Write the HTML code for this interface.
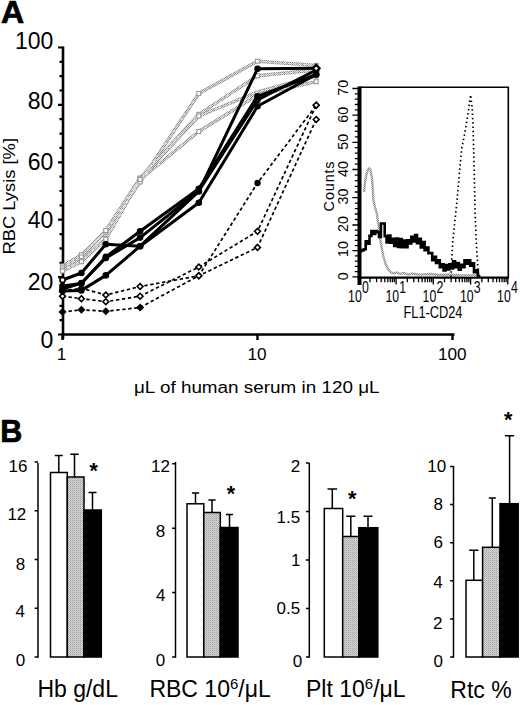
<!DOCTYPE html>
<html><head><meta charset="utf-8"><style>
html,body{margin:0;padding:0;background:#fff;}
svg{display:block;font-family:"Liberation Sans", sans-serif;}
</style></head><body>
<svg width="520" height="705" viewBox="0 0 520 705" font-family='"Liberation Sans", sans-serif'>
<rect width="520" height="705" fill="#fff"/>
<defs><pattern id="st" width="2" height="2" patternUnits="userSpaceOnUse"><rect width="2" height="2" fill="#d6d6d6"/><rect width="1" height="1" fill="#a2a2a2"/><rect x="1" y="1" width="1" height="1" fill="#bababa"/></pattern><pattern id="gl" width="2" height="2" patternUnits="userSpaceOnUse"><rect width="2" height="2" fill="#d6d6d6"/><rect width="1" height="1" fill="#808080"/><rect x="1" y="1" width="1" height="1" fill="#8c8c8c"/></pattern></defs>
<text x="0" y="23.2" font-size="31.5" font-weight="bold" stroke="#000" stroke-width="0.7" transform="translate(1.0 0) scale(1.02 1)">A</text>
<g stroke="#000" stroke-width="2.6" fill="none">
<line x1="63" y1="46.5" x2="63" y2="339"/>
<line x1="61.5" y1="334.5" x2="454.5" y2="334.5"/>
</g>
<path d="M58 334.5H63 M59.5 320.1H63 M59.5 305.8H63 M59.5 291.4H63 M58 277.1H63 M59.5 262.8H63 M59.5 248.4H63 M59.5 234.1H63 M58 219.7H63 M59.5 205.3H63 M59.5 191.0H63 M59.5 176.7H63 M58 162.3H63 M59.5 147.9H63 M59.5 133.6H63 M59.5 119.2H63 M58 104.9H63 M59.5 90.5H63 M59.5 76.2H63 M59.5 61.8H63 M58 47.5H63" stroke="#000" stroke-width="2.2"/>
<path d="M62.5 334.5V340M257.5 334.5V340M452.5 334.5V340" stroke="#000" stroke-width="2.4"/>
<text x="53.4" y="48.6" font-size="23" text-anchor="end">100</text>
<text x="53.4" y="109.2" font-size="23" text-anchor="end">80</text>
<text x="53.4" y="169.6" font-size="23" text-anchor="end">60</text>
<text x="53.4" y="228.2" font-size="23" text-anchor="end">40</text>
<text x="53.4" y="290.4" font-size="23" text-anchor="end">20</text>
<text x="53.4" y="348.2" font-size="23" text-anchor="end">0</text>
<text x="61.5" y="360.3" font-size="17.2" text-anchor="middle">1</text>
<text x="257.1" y="360.3" font-size="17.2" text-anchor="middle">10</text>
<text x="452.3" y="360.3" font-size="17.2" text-anchor="middle">100</text>
<text x="134" y="393" font-size="16.7" textLength="245.5" lengthAdjust="spacingAndGlyphs">μL of human serum in 120 μL</text>
<text transform="translate(14.6 254.5) rotate(-90)" font-size="16.7" textLength="116.5" lengthAdjust="spacingAndGlyphs">RBC Lysis [%]</text>
<path d="M62.5 266.0 L81.4 254.8 L105.8 232.0 L140.1 182.0 L198.8 93.5 L257.5 61.2 L316.2 65.4" fill="none" stroke="url(#gl)" stroke-width="3.4" stroke-linejoin="round"/>
<path d="M62.5 268.0 L81.4 257.0 L105.8 230.5 L140.1 178.0 L198.8 114.4 L257.5 75.8 L316.2 70.0" fill="none" stroke="url(#gl)" stroke-width="3.4" stroke-linejoin="round"/>
<path d="M62.5 270.0 L81.4 260.5 L105.8 238.5 L140.1 179.0 L198.8 116.0 L257.5 92.0 L316.2 76.0" fill="none" stroke="url(#gl)" stroke-width="3.4" stroke-linejoin="round"/>
<path d="M62.5 271.0 L81.4 261.7 L105.8 239.2 L140.1 179.5 L198.8 131.5 L257.5 95.0 L316.2 81.7" fill="none" stroke="url(#gl)" stroke-width="3.4" stroke-linejoin="round"/>
<path d="M62.5 266.0 L81.4 254.8 L105.8 232.0 L140.1 182.0 L198.8 93.5 L257.5 61.2 L316.2 65.4" fill="none" stroke="#ececec" stroke-width="1.0" stroke-dasharray="3.5 1.5"/>
<path d="M62.5 268.0 L81.4 257.0 L105.8 230.5 L140.1 178.0 L198.8 114.4 L257.5 75.8 L316.2 70.0" fill="none" stroke="#ececec" stroke-width="1.0" stroke-dasharray="3.5 1.5"/>
<path d="M62.5 270.0 L81.4 260.5 L105.8 238.5 L140.1 179.0 L198.8 116.0 L257.5 92.0 L316.2 76.0" fill="none" stroke="#ececec" stroke-width="1.0" stroke-dasharray="3.5 1.5"/>
<path d="M62.5 271.0 L81.4 261.7 L105.8 239.2 L140.1 179.5 L198.8 131.5 L257.5 95.0 L316.2 81.7" fill="none" stroke="#ececec" stroke-width="1.0" stroke-dasharray="3.5 1.5"/>
<rect x="60.5" y="264.0" width="4" height="4" fill="#fff" stroke="#9a9a9a" stroke-width="1.1"/>
<rect x="79.4" y="252.8" width="4" height="4" fill="#fff" stroke="#9a9a9a" stroke-width="1.1"/>
<rect x="103.8" y="230.0" width="4" height="4" fill="#fff" stroke="#9a9a9a" stroke-width="1.1"/>
<rect x="138.1" y="180.0" width="4" height="4" fill="#fff" stroke="#9a9a9a" stroke-width="1.1"/>
<rect x="196.8" y="91.5" width="4" height="4" fill="#fff" stroke="#9a9a9a" stroke-width="1.1"/>
<rect x="255.5" y="59.2" width="4" height="4" fill="#fff" stroke="#9a9a9a" stroke-width="1.1"/>
<rect x="314.2" y="63.4" width="4" height="4" fill="#fff" stroke="#9a9a9a" stroke-width="1.1"/>
<rect x="60.5" y="266.0" width="4" height="4" fill="#fff" stroke="#9a9a9a" stroke-width="1.1"/>
<rect x="79.4" y="255.0" width="4" height="4" fill="#fff" stroke="#9a9a9a" stroke-width="1.1"/>
<rect x="103.8" y="228.5" width="4" height="4" fill="#fff" stroke="#9a9a9a" stroke-width="1.1"/>
<rect x="138.1" y="176.0" width="4" height="4" fill="#fff" stroke="#9a9a9a" stroke-width="1.1"/>
<rect x="196.8" y="112.4" width="4" height="4" fill="#fff" stroke="#9a9a9a" stroke-width="1.1"/>
<rect x="255.5" y="73.8" width="4" height="4" fill="#fff" stroke="#9a9a9a" stroke-width="1.1"/>
<rect x="314.2" y="68.0" width="4" height="4" fill="#fff" stroke="#9a9a9a" stroke-width="1.1"/>
<rect x="60.5" y="268.0" width="4" height="4" fill="#fff" stroke="#9a9a9a" stroke-width="1.1"/>
<rect x="79.4" y="258.5" width="4" height="4" fill="#fff" stroke="#9a9a9a" stroke-width="1.1"/>
<rect x="103.8" y="236.5" width="4" height="4" fill="#fff" stroke="#9a9a9a" stroke-width="1.1"/>
<rect x="138.1" y="177.0" width="4" height="4" fill="#fff" stroke="#9a9a9a" stroke-width="1.1"/>
<rect x="196.8" y="114.0" width="4" height="4" fill="#fff" stroke="#9a9a9a" stroke-width="1.1"/>
<rect x="314.2" y="74.0" width="4" height="4" fill="#fff" stroke="#9a9a9a" stroke-width="1.1"/>
<rect x="60.5" y="269.0" width="4" height="4" fill="#fff" stroke="#9a9a9a" stroke-width="1.1"/>
<rect x="79.4" y="259.7" width="4" height="4" fill="#fff" stroke="#9a9a9a" stroke-width="1.1"/>
<rect x="103.8" y="237.2" width="4" height="4" fill="#fff" stroke="#9a9a9a" stroke-width="1.1"/>
<rect x="138.1" y="177.5" width="4" height="4" fill="#fff" stroke="#9a9a9a" stroke-width="1.1"/>
<rect x="196.8" y="129.5" width="4" height="4" fill="#fff" stroke="#9a9a9a" stroke-width="1.1"/>
<rect x="314.2" y="79.7" width="4" height="4" fill="#fff" stroke="#9a9a9a" stroke-width="1.1"/>
<path d="M62.5 312.0 L81.4 309.8 L105.8 311.3 L140.1 307.5 L198.8 275.8 L257.5 183.0 L316.2 105.2" fill="none" stroke="#000" stroke-width="1.7" stroke-dasharray="3.4 2.6"/>
<path d="M62.5 296.2 L81.4 298.7 L105.8 301.7 L140.1 296.2 L198.8 267.0 L257.5 231.3 L316.2 105.2" fill="none" stroke="#000" stroke-width="1.7" stroke-dasharray="3.4 2.6"/>
<path d="M62.5 291.0 L81.4 288.3 L105.8 295.0 L140.1 286.5 L198.8 275.8 L257.5 247.4 L316.2 119.5" fill="none" stroke="#000" stroke-width="1.7" stroke-dasharray="3.4 2.6"/>
<path d="M62.5 309.1L65.4 312.0L62.5 314.9L59.6 312.0Z" fill="#000" stroke="#000" stroke-width="1.6"/>
<path d="M81.4 306.9L84.3 309.8L81.4 312.7L78.5 309.8Z" fill="#000" stroke="#000" stroke-width="1.6"/>
<path d="M105.8 308.4L108.7 311.3L105.8 314.2L102.9 311.3Z" fill="#000" stroke="#000" stroke-width="1.6"/>
<path d="M140.1 304.6L143.0 307.5L140.1 310.4L137.2 307.5Z" fill="#000" stroke="#000" stroke-width="1.6"/>
<path d="M198.8 272.9L201.7 275.8L198.8 278.7L195.9 275.8Z" fill="#000" stroke="#000" stroke-width="1.6"/>
<circle cx="257.5" cy="183.0" r="3.2" fill="#000"/>
<path d="M316.2 102.3L319.1 105.2L316.2 108.1L313.3 105.2Z" fill="#fff" stroke="#000" stroke-width="1.6"/>
<path d="M62.5 293.3L65.4 296.2L62.5 299.1L59.6 296.2Z" fill="#fff" stroke="#000" stroke-width="1.6"/>
<path d="M81.4 295.8L84.3 298.7L81.4 301.6L78.5 298.7Z" fill="#fff" stroke="#000" stroke-width="1.6"/>
<path d="M105.8 298.8L108.7 301.7L105.8 304.6L102.9 301.7Z" fill="#fff" stroke="#000" stroke-width="1.6"/>
<path d="M140.1 293.3L143.0 296.2L140.1 299.1L137.2 296.2Z" fill="#fff" stroke="#000" stroke-width="1.6"/>
<path d="M198.8 264.1L201.7 267.0L198.8 269.9L195.9 267.0Z" fill="#fff" stroke="#000" stroke-width="1.6"/>
<path d="M257.5 228.4L260.4 231.3L257.5 234.2L254.6 231.3Z" fill="#fff" stroke="#000" stroke-width="1.6"/>
<path d="M316.2 102.3L319.1 105.2L316.2 108.1L313.3 105.2Z" fill="#fff" stroke="#000" stroke-width="1.6"/>
<path d="M62.5 288.1L65.4 291.0L62.5 293.9L59.6 291.0Z" fill="#fff" stroke="#000" stroke-width="1.6"/>
<path d="M81.4 285.4L84.3 288.3L81.4 291.2L78.5 288.3Z" fill="#fff" stroke="#000" stroke-width="1.6"/>
<path d="M105.8 292.1L108.7 295.0L105.8 297.9L102.9 295.0Z" fill="#fff" stroke="#000" stroke-width="1.6"/>
<path d="M140.1 283.6L143.0 286.5L140.1 289.4L137.2 286.5Z" fill="#fff" stroke="#000" stroke-width="1.6"/>
<path d="M198.8 272.9L201.7 275.8L198.8 278.7L195.9 275.8Z" fill="#fff" stroke="#000" stroke-width="1.6"/>
<path d="M257.5 244.5L260.4 247.4L257.5 250.3L254.6 247.4Z" fill="#fff" stroke="#000" stroke-width="1.6"/>
<path d="M316.2 116.6L319.1 119.5L316.2 122.4L313.3 119.5Z" fill="#fff" stroke="#000" stroke-width="1.6"/>
<path d="M62.5 280.0 L81.4 273.0 L105.8 244.2 L140.1 246.2 L198.8 191.4 L257.5 68.8 L316.2 68.3" fill="none" stroke="#000" stroke-width="3.0" stroke-linejoin="round"/>
<path d="M62.5 286.0 L81.4 283.5 L105.8 256.9 L140.1 231.2 L198.8 188.7 L257.5 96.3 L316.2 74.5" fill="none" stroke="#000" stroke-width="3.0" stroke-linejoin="round"/>
<path d="M62.5 291.0 L81.4 290.4 L105.8 275.4 L140.1 246.2 L198.8 202.7 L257.5 106.3 L316.2 74.5" fill="none" stroke="#000" stroke-width="3.0" stroke-linejoin="round"/>
<path d="M62.5 289.0 L81.4 283.0 L105.8 258.0 L140.1 237.6 L198.8 191.0 L257.5 100.0 L316.2 70.0" fill="none" stroke="#000" stroke-width="3.0" stroke-linejoin="round"/>
<circle cx="62.5" cy="280.0" r="2.6" fill="#fff" stroke="#000" stroke-width="1.6"/>
<circle cx="81.4" cy="273.0" r="3.3" fill="#000"/>
<circle cx="105.8" cy="244.2" r="3.3" fill="#000"/>
<circle cx="140.1" cy="246.2" r="3.3" fill="#000"/>
<circle cx="198.8" cy="191.4" r="3.3" fill="#000"/>
<circle cx="257.5" cy="68.8" r="3.3" fill="#000"/>
<circle cx="62.5" cy="286.0" r="3.3" fill="#000"/>
<circle cx="81.4" cy="283.5" r="3.3" fill="#000"/>
<circle cx="105.8" cy="256.9" r="3.3" fill="#000"/>
<circle cx="140.1" cy="231.2" r="3.3" fill="#000"/>
<circle cx="198.8" cy="188.7" r="3.3" fill="#000"/>
<circle cx="257.5" cy="96.3" r="3.3" fill="#000"/>
<circle cx="316.2" cy="74.5" r="3.3" fill="#000"/>
<circle cx="62.5" cy="291.0" r="3.3" fill="#000"/>
<circle cx="81.4" cy="290.4" r="3.3" fill="#000"/>
<circle cx="105.8" cy="275.4" r="3.3" fill="#000"/>
<circle cx="140.1" cy="246.2" r="3.3" fill="#000"/>
<circle cx="198.8" cy="202.7" r="3.3" fill="#000"/>
<circle cx="257.5" cy="106.3" r="3.3" fill="#000"/>
<circle cx="316.2" cy="74.5" r="3.3" fill="#000"/>
<circle cx="62.5" cy="289.0" r="3.3" fill="#000"/>
<circle cx="81.4" cy="283.0" r="3.3" fill="#000"/>
<circle cx="105.8" cy="258.0" r="3.3" fill="#000"/>
<circle cx="140.1" cy="237.6" r="3.3" fill="#000"/>
<circle cx="198.8" cy="191.0" r="3.3" fill="#000"/>
<circle cx="257.5" cy="100.0" r="3.3" fill="#000"/>
<circle cx="316.2" cy="70.0" r="3.3" fill="#000"/>
<path d="M316.2 64.9L319.6 68.3L316.2 71.7L312.8 68.3Z" fill="#fff" stroke="#000" stroke-width="2.2"/>
<path d="M359 87.2H508.3V277.6" fill="none" stroke="#000" stroke-width="1.6"/>
<line x1="359.5" y1="86.4" x2="359.5" y2="285" stroke="#000" stroke-width="4"/>
<line x1="357.5" y1="277.6" x2="509" y2="277.6" stroke="#000" stroke-width="2.2"/>
<path d="M352.4 276.8H358 M354.8 271.6H358 M354.8 266.4H358 M354.8 261.1H358 M354.8 255.9H358 M352.4 250.7H358 M354.8 245.6H358 M354.8 240.4H358 M354.8 235.3H358 M354.8 230.1H358 M352.4 225.0H358 M354.8 219.5H358 M354.8 214.0H358 M354.8 208.6H358 M354.8 203.1H358 M352.4 197.6H358 M354.8 192.0H358 M354.8 186.4H358 M354.8 180.7H358 M354.8 175.1H358 M352.4 169.5H358 M354.8 164.1H358 M354.8 158.6H358 M354.8 153.2H358 M354.8 147.7H358 M352.4 142.3H358 M354.8 136.9H358 M354.8 131.4H358 M354.8 126.0H358 M354.8 120.5H358 M352.4 115.1H358 M354.8 109.8H358 M354.8 104.5H358 M354.8 99.1H358 M354.8 93.8H358 M352.4 88.5H358" stroke="#000" stroke-width="1.3"/>
<path d="M358.8 278V284.6 M370.0 278V282.3 M376.6 278V282.3 M381.2 278V282.3 M384.8 278V282.3 M387.8 278V282.3 M390.3 278V282.3 M392.4 278V282.3 M394.3 278V282.3 M396.1 278V284.6 M407.3 278V282.3 M413.8 278V282.3 M418.5 278V282.3 M422.1 278V282.3 M425.0 278V282.3 M427.5 278V282.3 M429.7 278V282.3 M431.6 278V282.3 M433.3 278V284.6 M444.5 278V282.3 M451.1 278V282.3 M455.7 278V282.3 M459.3 278V282.3 M462.3 278V282.3 M464.8 278V282.3 M466.9 278V282.3 M468.8 278V282.3 M470.6 278V284.6 M481.8 278V282.3 M488.3 278V282.3 M493.0 278V282.3 M496.6 278V282.3 M499.5 278V282.3 M502.0 278V282.3 M504.2 278V282.3 M506.1 278V282.3 M507.8 278V284.6" stroke="#000" stroke-width="1.3"/>
<text transform="translate(348.3 87.8) rotate(-90)" font-size="14.3" text-anchor="middle">70</text>
<text transform="translate(348.3 114.7) rotate(-90)" font-size="14.3" text-anchor="middle">60</text>
<text transform="translate(348.3 141.8) rotate(-90)" font-size="14.3" text-anchor="middle">50</text>
<text transform="translate(348.3 169.0) rotate(-90)" font-size="14.3" text-anchor="middle">40</text>
<text transform="translate(348.3 196.5) rotate(-90)" font-size="14.3" text-anchor="middle">30</text>
<text transform="translate(348.3 224.1) rotate(-90)" font-size="14.3" text-anchor="middle">20</text>
<text transform="translate(348.3 249.1) rotate(-90)" font-size="14.3" text-anchor="middle">10</text>
<text transform="translate(348.3 276.2) rotate(-90)" font-size="14.3" text-anchor="middle">0</text>
<text transform="translate(333.8 211.4) rotate(-90)" font-size="14.5" letter-spacing="1" textLength="51" lengthAdjust="spacing">Counts</text>
<text transform="translate(354.9 302.2) scale(0.74 1)" font-size="16.6" text-anchor="middle">10</text>
<text transform="translate(365.3 293.2) scale(0.74 1)" font-size="16.6" text-anchor="middle">0</text>
<text transform="translate(392.2 302.2) scale(0.74 1)" font-size="16.6" text-anchor="middle">10</text>
<text transform="translate(402.6 293.2) scale(0.74 1)" font-size="16.6" text-anchor="middle">1</text>
<text transform="translate(429.4 302.2) scale(0.74 1)" font-size="16.6" text-anchor="middle">10</text>
<text transform="translate(439.8 293.2) scale(0.74 1)" font-size="16.6" text-anchor="middle">2</text>
<text transform="translate(466.7 302.2) scale(0.74 1)" font-size="16.6" text-anchor="middle">10</text>
<text transform="translate(477.1 293.2) scale(0.74 1)" font-size="16.6" text-anchor="middle">3</text>
<text transform="translate(503.9 302.2) scale(0.74 1)" font-size="16.6" text-anchor="middle">10</text>
<text transform="translate(514.3 293.2) scale(0.74 1)" font-size="16.6" text-anchor="middle">4</text>
<text transform="translate(403.5 318.4) scale(0.79 1)" font-size="16.2">FL1-CD24</text>
<path d="M364.2 192 L365 182 L366.5 174 L368 169.5 L369.2 168.5 L370.5 170 L372 178 L372.7 188 L373.4 199.7 L374.9 206.8 L377 213.9 L377.7 221 L379.1 228.1 L379.8 236.6 L381.2 245.1 L383.4 256.5 L386 265 L388.7 270 L391 272.5 L394 273.5 L397 272.5 L400 274 L404 273 L408 274.5 L412 273.8 L420 274.6 L430 274 L440 275 L450 274.5 L460 275.2 L475 275.5 L480 276" fill="none" stroke="url(#gl)" stroke-width="2.4"/>
<path d="M360.0 251.0 L361.9 251.0 L361.9 250.2 L363.8 250.2 L363.8 249.3 L365.7 249.3 L365.7 241.2 L367.6 241.2 L367.6 243.7 L369.5 243.7 L369.5 235.9 L371.4 235.9 L371.4 231 L373.3 231 L373.3 234.0 L375.2 234.0 L375.2 231 L377.1 231 L377.1 232.2 L379.0 232.2 L379.0 236.9 L380.9 236.9 L380.9 223.5 L382.8 223.5 L382.8 223.5 L384.7 223.5 L384.7 236.1 L386.6 236.1 L386.6 242.4 L388.5 242.4 L388.5 235.5 L390.4 235.5 L390.4 242.8 L392.3 242.8 L392.3 238.9 L394.2 238.9 L394.2 245.9 L396.1 245.9 L396.1 238.6 L398.0 238.6 L398.0 247.0 L399.9 247.0 L399.9 239.0 L401.8 239.0 L401.8 247.1 L403.7 247.1 L403.7 240.6 L405.6 240.6 L405.6 247.2 L407.5 247.2 L407.5 240.2 L409.4 240.2 L409.4 243.4 L411.3 243.4 L411.3 236.8 L413.2 236.8 L413.2 241.4 L415.1 241.4 L415.1 235.1 L417.0 235.1 L417.0 243.2 L418.9 243.2 L418.9 238.8 L420.8 238.8 L420.8 247.5 L422.7 247.5 L422.7 242.1 L424.6 242.1 L424.6 250.2 L426.5 250.2 L426.5 247.6 L428.4 247.6 L428.4 253.1 L430.3 253.1 L430.3 253.1 L432.2 253.1 L432.2 260.1 L434.1 260.1 L434.1 256.8 L436.0 256.8 L436.0 263.0 L437.9 263.0 L437.9 260.3 L439.8 260.3 L439.8 267.1 L441.7 267.1 L441.7 264.4 L443.6 264.4 L443.6 270.4 L445.5 270.4 L445.5 265.0 L447.4 265.0 L447.4 269.4 L449.3 269.4 L449.3 264.2 L451.2 264.2 L451.2 268.4 L453.1 268.4 L453.1 261.3 L455.0 261.3 L455.0 267.3 L456.9 267.3 L456.9 263.0 L458.8 263.0 L458.8 269.8 L460.7 269.8 L460.7 264.9 L462.6 264.9 L462.6 267.1 L464.5 267.1 L464.5 260.2 L466.4 260.2 L466.4 263.7 L468.3 263.7 L468.3 260.4 L470.2 260.4 L470.2 265.6 L472.1 265.6 L472.1 263.3 L474.0 263.3 L474.0 272.2 L475.9 272.2 L475.9 270.2 L477.8 270.2 L477.8 276.0 L479 276.0 L479 277.5" fill="none" stroke="#000" stroke-width="2.6" stroke-linejoin="miter"/>
<path d="M451.0 277 L451.6 262 L452.8 241 L455 220 L457.2 199 L459.5 172 L461.7 148.5 L464.7 133.6 L467.7 115.7 L470.6 94.9 L472.2 108 L473 124.7 L474.2 169.4 L475.1 214 L476.5 246 L478 270.6 L479 277" fill="none" stroke="#000" stroke-width="1.7" stroke-dasharray="1.5 2.8"/>
<text x="0.3" y="442.0" font-size="30.5" font-weight="bold" stroke="#000" stroke-width="0.7">B</text>
<line x1="38" y1="463.0" x2="38" y2="657.7" stroke="#000" stroke-width="1.5"/>
<path d="M34.6 657.0H38M34.6 608.2H38M34.6 559.5H38M34.6 510.7H38M34.6 462.0H38" stroke="#000" stroke-width="1.5"/>
<text x="27.5" y="472" font-size="17" text-anchor="end">16</text>
<text x="26.3" y="519.5" font-size="17" text-anchor="end">12</text>
<text x="25.2" y="569.5" font-size="17" text-anchor="end">8</text>
<text x="25" y="617" font-size="17" text-anchor="end">4</text>
<text x="25.2" y="665.8" font-size="17" text-anchor="end">0</text>
<rect x="50.5" y="472.5" width="16.799999999999997" height="184.5" fill="#fff" stroke="#000" stroke-width="1.5"/>
<rect x="67.3" y="477.0" width="16.700000000000003" height="180.0" fill="url(#st)" stroke="#000" stroke-width="1.5"/>
<rect x="84" y="510.0" width="17.299999999999997" height="147.0" fill="#000" stroke="#000" stroke-width="1.5"/>
<path d="M58.8 472.5V455.5M54.8 455.5H62.8" stroke="#000" stroke-width="1.5"/>
<path d="M74.5 477.0V454.3M70.3 454.3H78.7" stroke="#000" stroke-width="1.5"/>
<path d="M92.5 510.0V492.5M88.5 492.5H96.5" stroke="#000" stroke-width="1.5"/>
<text x="93.8" y="477.9" font-size="21.5" font-weight="bold" text-anchor="middle">*</text>
<text x="37.4" y="697" font-size="23">Hb g/dL</text>
<line x1="175.5" y1="462.0" x2="175.5" y2="657.7" stroke="#000" stroke-width="1.5"/>
<path d="M172.1 657.0H175.5M172.1 592.6H175.5M172.1 528.2H175.5M172.1 463.8H175.5" stroke="#000" stroke-width="1.5"/>
<text x="170" y="472" font-size="17" text-anchor="end">12</text>
<text x="165.2" y="537" font-size="17" text-anchor="end">8</text>
<text x="165.5" y="600.8" font-size="17" text-anchor="end">4</text>
<text x="165.2" y="665.8" font-size="17" text-anchor="end">0</text>
<rect x="187" y="503.8" width="16.80000000000001" height="153.2" fill="#fff" stroke="#000" stroke-width="1.5"/>
<rect x="203.8" y="512.5" width="16.5" height="144.5" fill="url(#st)" stroke="#000" stroke-width="1.5"/>
<rect x="220.3" y="527.5" width="17.69999999999999" height="129.5" fill="#000" stroke="#000" stroke-width="1.5"/>
<path d="M195.5 503.8V493.0M191.9 493.0H199.1" stroke="#000" stroke-width="1.5"/>
<path d="M212.0 512.5V500.0M208.4 500.0H215.6" stroke="#000" stroke-width="1.5"/>
<path d="M229.5 527.5V514.5M225.9 514.5H233.1" stroke="#000" stroke-width="1.5"/>
<text x="230.9" y="501.2" font-size="21.5" font-weight="bold" text-anchor="middle">*</text>
<text x="149.4" y="697.3" font-size="23">RBC 10<tspan font-size="15" dy="-8.5">6</tspan><tspan dy="8.5">/μL</tspan></text>
<line x1="309.3" y1="463.0" x2="309.3" y2="657.7" stroke="#000" stroke-width="1.5"/>
<path d="M305.9 657.0H309.3M305.9 608.5H309.3M305.9 560.0H309.3M305.9 511.5H309.3M305.9 463.0H309.3" stroke="#000" stroke-width="1.5"/>
<text x="300.2" y="471.8" font-size="17" text-anchor="end">2</text>
<text x="300.2" y="522.5" font-size="17" text-anchor="end">1.5</text>
<text x="300.5" y="566" font-size="17" text-anchor="end">1</text>
<text x="300.2" y="613.7" font-size="17" text-anchor="end">0.5</text>
<text x="302.3" y="667.2" font-size="17" text-anchor="end">0</text>
<rect x="324.3" y="508.5" width="18.399999999999977" height="148.5" fill="#fff" stroke="#000" stroke-width="1.5"/>
<rect x="342.7" y="536.5" width="16.100000000000023" height="120.5" fill="url(#st)" stroke="#000" stroke-width="1.5"/>
<rect x="358.8" y="527.7" width="19.0" height="129.3" fill="#000" stroke="#000" stroke-width="1.5"/>
<path d="M332.3 508.5V488.9M327.5 488.9H337.1" stroke="#000" stroke-width="1.5"/>
<path d="M350.8 536.5V516.2M346.3 516.2H355.3" stroke="#000" stroke-width="1.5"/>
<path d="M368.0 527.7V516.2M363.5 516.2H372.5" stroke="#000" stroke-width="1.5"/>
<text x="352.2" y="505.9" font-size="21.5" font-weight="bold" text-anchor="middle">*</text>
<text x="306" y="697.3" font-size="23">Plt 10<tspan font-size="15" dy="-8.5">6</tspan><tspan dy="8.5">/μL</tspan></text>
<line x1="453.5" y1="466.0" x2="453.5" y2="657.7" stroke="#000" stroke-width="1.5"/>
<path d="M450.1 657.0H453.5M450.1 618.9H453.5M450.1 580.8H453.5M450.1 542.7H453.5M450.1 504.6H453.5M450.1 466.5H453.5" stroke="#000" stroke-width="1.5"/>
<text x="446.2" y="472.2" font-size="17" text-anchor="end">10</text>
<text x="442.9" y="509.8" font-size="17" text-anchor="end">8</text>
<text x="442.9" y="548" font-size="17" text-anchor="end">6</text>
<text x="442.7" y="588.3" font-size="17" text-anchor="end">4</text>
<text x="442.4" y="628.7" font-size="17" text-anchor="end">2</text>
<text x="442.9" y="666.8" font-size="17" text-anchor="end">0</text>
<rect x="466" y="580.3" width="16.600000000000023" height="76.7" fill="#fff" stroke="#000" stroke-width="1.5"/>
<rect x="482.6" y="547.3" width="17.399999999999977" height="109.7" fill="url(#st)" stroke="#000" stroke-width="1.5"/>
<rect x="500" y="503.7" width="18.200000000000045" height="153.3" fill="#000" stroke="#000" stroke-width="1.5"/>
<path d="M473.8 580.3V550.3M469.2 550.3H478.4" stroke="#000" stroke-width="1.5"/>
<path d="M492.3 547.3V498.0M488.8 498.0H495.8" stroke="#000" stroke-width="1.5"/>
<path d="M509.6 503.7V435.8M505.0 435.8H514.2" stroke="#000" stroke-width="1.5"/>
<text x="508.2" y="427.2" font-size="21.5" font-weight="bold" text-anchor="middle">*</text>
<text x="450.3" y="698.3" font-size="23">Rtc %</text>
</svg>
</body></html>
